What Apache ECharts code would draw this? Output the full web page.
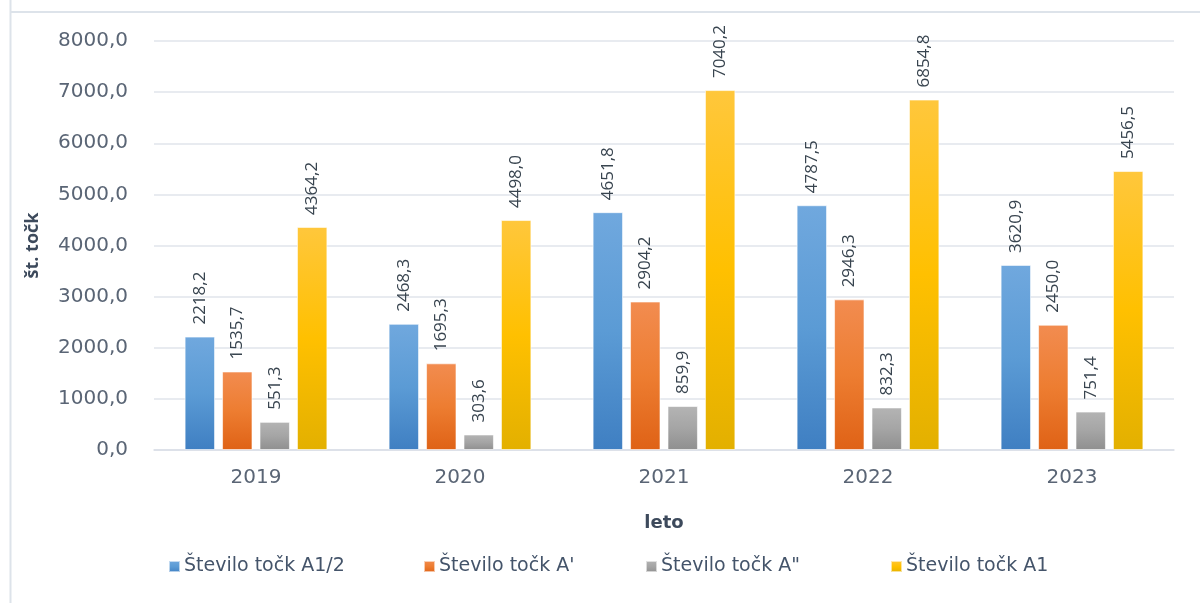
<!DOCTYPE html>
<html><head><meta charset="utf-8">
<script src="https://cdn.jsdelivr.net/npm/echarts@6/dist/echarts.min.js"></script>
<style>html,body{margin:0;padding:0;background:#fff}#c{width:1200px;height:603px}</style>
</head><body><div id="c"></div>
<script>
const categories = ['2019','2020','2021','2022','2023'];
const seriesNames = ['Število točk A1/2','Število točk A\'','Število točk A"','Število točk A1'];
const valuesA12 = [2218.2, 2468.3, 4651.8, 4787.5, 3620.9];
const valuesAp = [1535.7, 1695.3, 2904.2, 2946.3, 2450.0];
const valuesApp = [551.3, 303.6, 859.9, 832.3, 751.4];
const valuesA1 = [4364.2, 4498.0, 7040.2, 6854.8, 5456.5];
const yTicks = [0, 1000, 2000, 3000, 4000, 5000, 6000, 7000, 8000];

const palettes = [
  ['#70a8de','#5b9bd5','#3f7fc2'],
  ['#f28c50','#ed7d31','#df6216'],
  ['#b4b4b4','#a5a5a5','#8f8f8f'],
  ['#ffc73c','#ffc000','#e3b000']
];
const allValues = [valuesA12, valuesAp, valuesApp, valuesA1];
const legendLefts = [163, 418, 640, 885];
const fmt = v => v.toFixed(1).replace('.', ',');

const chart = echarts.init(document.getElementById('c'));
chart.setOption({
  animation: false,
  backgroundColor: '#fff',
  graphic: [
    {type:'line', shape:{x1:10.5,y1:0,x2:10.5,y2:603}, style:{stroke:'#dde3ea',lineWidth:2}},
    {type:'line', shape:{x1:10,y1:12,x2:1200,y2:12}, style:{stroke:'#dde3ea',lineWidth:2}}
  ],
  grid: {left:154, right:26, top:41, bottom:153, containLabel:false},
  legend: seriesNames.map((n, i) => ({
    top: 552, left: legendLefts[i],
    itemWidth: 11, itemHeight: 11, itemGap: 0,
    icon: 'rect',
    textStyle: {fontFamily:'DejaVu Sans', fontSize:19, color:'#44546a', padding:[0,0,2,-1]},
    data: [n]
  })),
  xAxis: {
    type: 'category', data: categories,
    name: 'leto', nameLocation: 'middle', nameGap: 64,
    nameTextStyle: {fontFamily:'DejaVu Sans', fontSize:18, fontWeight:'bold', color:'#3d4a5c'},
    axisLine: {lineStyle:{color:'#d9dee6', width:1.5}},
    axisTick: {show:false},
    axisLabel: {fontFamily:'DejaVu Sans', fontSize:20, color:'#5a6575', margin:18}
  },
  yAxis: {
    type: 'value', min: yTicks[0], max: yTicks[yTicks.length-1], interval: 1000,
    name: 'št. točk', nameLocation: 'middle', nameGap: 112, nameRotate: 90,
    nameTextStyle: {fontFamily:'Open Sans', fontSize:18, fontWeight:'bold', color:'#3d4a5c'},
    axisLine: {show:false}, axisTick: {show:false},
    axisLabel: {fontFamily:'DejaVu Sans', fontSize:20, color:'#5a6575', margin:26, formatter: v => fmt(v)},
    splitLine: {lineStyle:{color:'#e0e5eb', width:1.5}}
  },
  series: allValues.map((vals, i) => ({
    name: seriesNames[i], type: 'bar', data: vals,
    barCategoryGap: '30%', barGap: '23%',
    itemStyle: {
      color: new echarts.graphic.LinearGradient(0,0,0,1,[
        {offset:0,color:palettes[i][0]},{offset:0.5,color:palettes[i][1]},{offset:1,color:palettes[i][2]}
      ]),
      borderColor: 'rgba(255,255,255,0.6)', borderWidth: 1
    },
    label: {
      show: true, position: 'top', rotate: 90, distance: 12,
      align: 'left', verticalAlign: 'middle',
      fontFamily: 'Open Sans', fontSize: 17, color: '#38444f',
      formatter: p => fmt(p.value)
    }
  }))
});
</script></body></html>
